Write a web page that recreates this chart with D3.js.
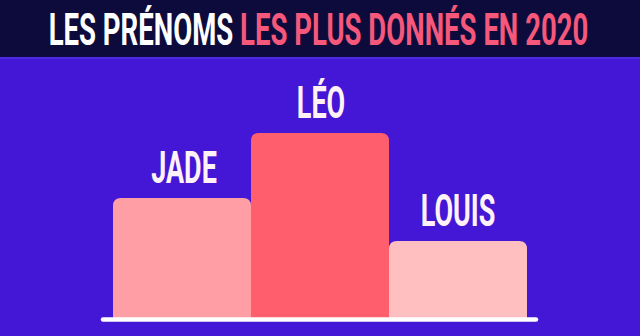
<!DOCTYPE html>
<html><head><meta charset="utf-8">
<script src="https://cdn.jsdelivr.net/npm/d3@7"></script>
<style>html,body{margin:0;padding:0;background:#4416d6;}svg{display:block;}</style>
</head><body>
<script>
const names = ["JADE", "LÉO", "LOUIS"];
const values = [121, 186, 78];
const barColors = ["#ff9ea5", "#ff5f6c", "#ffbfc1"];
const titleWhite = "LES PRÉNOMS ";
const titlePink = "LES PLUS DONNÉS EN 2020";

const W = 640, H = 336;
const svg = d3.select("body").append("svg").attr("width", W).attr("height", H);
svg.append("rect").attr("width", W).attr("height", H).attr("fill", "#4416d6");

// banner
svg.append("rect").attr("width", W).attr("height", 57).attr("fill", "#0d0b3c");
svg.append("rect").attr("y", 57).attr("width", W).attr("height", 2).attr("fill", "#4d2be2");

const font = "Roboto, 'DejaVu Sans', sans-serif";

const tg = svg.append("g").attr("transform", `translate(318.5,45) scale(0.612,1)`);
const title = tg.append("text").attr("text-anchor", "middle")
  .attr("font-family", font).attr("font-weight", 700).attr("font-size", 45);
title.append("tspan").attr("fill", "#ffffff").text(titleWhite);
title.append("tspan").attr("fill", "#f5587a").text(titlePink);

const x = d3.scaleBand().domain(names).range([113, 527]).padding(0);
const y = d3.scaleLinear().domain([0, 186]).range([319, 133]);

const r = 8;
function topRounded(x0, y0, w, h, r) {
  return `M${x0},${y0 + h}V${y0 + r}Q${x0},${y0} ${x0 + r},${y0}H${x0 + w - r}Q${x0 + w},${y0} ${x0 + w},${y0 + r}V${y0 + h}Z`;
}
const order = [0, 2, 1];
order.forEach(i => {
  const x0 = x(names[i]), w = x.bandwidth();
  svg.append("path")
    .attr("d", topRounded(x0, y(values[i]), w, y(0) - y(values[i]), r))
    .attr("fill", barColors[i]);
});

const labelDx = [2, 1, 0];
names.forEach((n, i) => {
  const cx = x(n) + x.bandwidth() / 2 + labelDx[i];
  svg.append("g").attr("transform", `translate(${cx},${y(values[i]) - 15}) scale(0.6,1)`)
    .append("text").attr("text-anchor", "middle")
    .attr("font-family", font).attr("font-weight", 700).attr("font-size", 45)
    .attr("fill", "#fff2f6").text(n);
});

svg.append("line").attr("x1", 103).attr("x2", 536).attr("y1", 319.5).attr("y2", 319.5)
  .attr("stroke", "#ffffff").attr("stroke-width", 4.5).attr("stroke-linecap", "round");
</script>
</body></html>
